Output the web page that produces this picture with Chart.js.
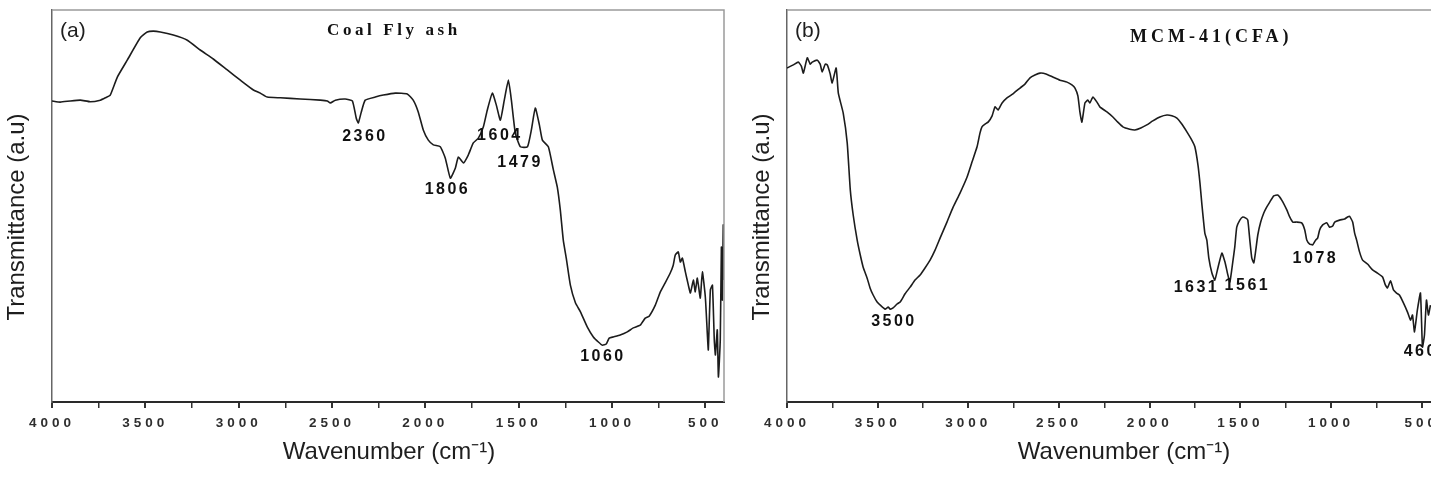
<!DOCTYPE html>
<html>
<head>
<meta charset="utf-8">
<script src="https://cdn.jsdelivr.net/npm/chart.js@4.4.1/dist/chart.umd.min.js"></script>
<style>
    html, body { margin: 0; padding: 0; background: #fff; overflow: hidden; width: 1431px; height: 478px; }
    .panel { position: absolute; top: 0; }
    #panelA { left: 0; }
    #panelB { left: 740px; }
</style>
</head>
<body>
<div class="panel" id="panelA"><canvas id="chartA" width="735" height="478"></canvas></div>
<div class="panel" id="panelB"><canvas id="chartB" width="700" height="478"></canvas></div>
<script>
// x axis ticks (cm-1)
const majorTicks = [4000, 3500, 3000, 2500, 2000, 1500, 1000, 500];
const minorTicks = [3750, 3250, 2750, 2250, 1750, 1250, 750];

// (a) Coal fly ash spectrum
const waveA = [4000, 3956, 3902, 3848, 3795, 3741, 3714, 3688, 3650, 3597, 3527, 3490, 3457, 3420, 3350, 3275,
    3206, 3136, 3061, 2991, 2921, 2884, 2847, 2777, 2670, 2563, 2525, 2509, 2482, 2429, 2391, 2370, 2359, 2343,
    2322, 2268, 2225, 2161, 2097, 2065, 2038, 2011, 1984, 1957, 1920, 1893, 1866, 1839, 1823, 1796, 1770, 1743,
    1716, 1689, 1668, 1641, 1620, 1598, 1577, 1555, 1539, 1518, 1491, 1453, 1432, 1411, 1389, 1373, 1341, 1314,
    1293, 1277, 1261, 1245, 1223, 1196, 1169, 1132, 1100, 1073, 1052, 1031, 1015, 993, 956, 918, 886, 849, 822,
    801, 768, 741, 715, 688, 672, 661, 645, 634, 623, 607, 591, 580, 564, 554, 543, 527, 516, 500, 489, 484, 473,
    462, 452, 446, 436, 430, 420, 414, 409, 404, 400];
const transA = [76.8, 76.5, 76.8, 77.0, 76.6, 77.0, 77.6, 78.3, 82.9, 87.2, 92.9, 94.4, 94.6, 94.4, 93.6, 92.3,
    89.8, 87.5, 84.7, 82.1, 79.6, 78.8, 77.8, 77.6, 77.3, 77.0, 76.8, 76.3, 77.0, 77.3, 76.8, 72.4, 71.2, 74.0,
    77.0, 77.8, 78.3, 78.8, 78.6, 77.0, 74.0, 69.4, 66.8, 65.6, 65.1, 62.2, 57.1, 59.7, 62.5, 61.0, 63.0, 66.1,
    67.3, 70.2, 74.5, 78.8, 75.8, 71.9, 77.0, 82.1, 77.0, 68.6, 65.1, 65.1, 69.4, 75.0, 70.7, 66.8, 65.1, 59.2,
    54.8, 49.0, 41.3, 36.7, 29.8, 25.3, 23.0, 19.1, 16.6, 15.3, 14.5, 14.8, 16.3, 16.6, 17.1, 17.9, 18.9, 19.6, 21.4,
    21.9, 24.7, 28.1, 30.4, 32.9, 34.9, 37.5, 38.3, 35.7, 36.7, 33.2, 29.8, 27.8, 31.1, 28.1, 31.6, 26.5, 33.2,
    26.8, 17.1, 13.3, 28.6, 29.8, 15.8, 12.0, 18.4, 6.4, 15.8, 39.5, 26.0, 45.2, 31.1];

// (b) MCM-41 (CFA) spectrum
const waveB = [4000, 3965, 3938, 3921, 3910, 3888, 3872, 3861, 3833, 3817, 3806, 3789, 3778, 3762, 3751, 3729,
    3717, 3690, 3668, 3651, 3635, 3613, 3596, 3580, 3558, 3542, 3525, 3503, 3481, 3459, 3442, 3431, 3415, 3393,
    3376, 3349, 3321, 3294, 3266, 3239, 3211, 3183, 3156, 3118, 3084, 3046, 3007, 2980, 2952, 2936, 2925, 2908,
    2891, 2869, 2853, 2836, 2814, 2787, 2754, 2715, 2688, 2660, 2633, 2605, 2572, 2534, 2495, 2456, 2429, 2412,
    2396, 2385, 2374, 2357, 2341, 2330, 2313, 2291, 2275, 2236, 2203, 2176, 2148, 2110, 2082, 2049, 2016, 1983,
    1944, 1905, 1878, 1850, 1823, 1795, 1768, 1751, 1734, 1723, 1712, 1696, 1685, 1674, 1657, 1641, 1624, 1602,
    1585, 1569, 1558, 1542, 1531, 1520, 1503, 1487, 1470, 1459, 1448, 1437, 1426, 1415, 1404, 1388, 1371, 1355,
    1338, 1316, 1294, 1272, 1244, 1228, 1211, 1189, 1162, 1145, 1134, 1118, 1101, 1085, 1074, 1063, 1046, 1024,
    1008, 991, 980, 953, 925, 909, 898, 881, 870, 859, 843, 826, 799, 771, 744, 716, 700, 689, 672, 656, 639, 623,
    601, 579, 562, 551, 540, 524, 507, 496, 485, 474, 463, 452];
const transB = [85.2, 86.0, 86.7, 85.7, 83.9, 87.8, 86.2, 86.7, 87.2, 86.2, 84.2, 86.2, 86.0, 83.7, 81.4, 85.2,
    78.8, 73.7, 66.1, 54.1, 47.7, 41.3, 37.5, 34.4, 31.6, 29.1, 27.3, 25.5, 24.5, 23.7, 24.2, 23.7, 24.0, 25.0,
    25.5, 27.6, 29.3, 31.1, 32.4, 34.2, 36.2, 38.8, 41.8, 45.9, 49.7, 53.3, 57.4, 61.2, 65.1, 68.6, 70.2, 70.9,
    71.4, 73.0, 75.3, 74.5, 76.3, 77.6, 78.6, 80.1, 81.1, 82.7, 83.4, 83.9, 83.7, 82.9, 82.1, 81.6, 80.9, 80.1,
    78.1, 74.0, 71.4, 76.3, 77.0, 76.3, 77.8, 76.5, 75.3, 74.0, 72.7, 71.4, 70.2, 69.6, 69.4, 69.9, 70.7, 71.7,
    72.7, 73.2, 73.0, 72.4, 70.9, 68.9, 66.8, 65.1, 60.5, 55.9, 50.3, 43.1, 41.3, 36.7, 32.9, 31.1, 34.2, 38.0,
    35.7, 32.4, 30.6, 35.7, 39.5, 44.6, 46.4, 47.2, 46.9, 46.4, 41.3, 36.7, 35.5, 38.8, 42.6, 45.9, 48.2, 49.7,
    51.0, 52.6, 52.8, 51.5, 49.0, 47.2, 45.9, 45.9, 45.7, 43.9, 41.3, 40.3, 40.1, 41.3, 41.8, 43.9, 45.2, 45.7,
    44.6, 44.9, 45.9, 46.4, 46.7, 47.2, 47.4, 45.9, 43.1, 41.3, 38.3, 36.2, 35.2, 33.7, 32.9, 31.9, 29.8, 29.1,
    30.9, 28.6, 27.8, 27.3, 25.3, 23.0, 20.9, 22.2, 17.9, 23.5, 27.8, 14.0, 17.1, 26.0, 22.2, 24.7];

// peak labels: text, anchor wavenumber, anchor transmittance
const peaksA = [['2360', 2330, 67.6], ['1806', 1888, 54.1], ['1604', 1607, 67.9], ['1479', 1499, 61.2], ['1060', 1055, 11.5]];
const peaksB = [['3500', 3417, 20.4], ['1631', 1749, 29.3], ['1561', 1468, 29.6], ['1078', 1093, 36.5], ['460', 512, 12.8]];

const SANS = '"Liberation Sans", Arial, sans-serif';
const SERIF = '"Liberation Serif", "Times New Roman", serif';

// extra drawing: frame, titles, peak labels
const decorPlugin = {
    id: 'decor',
    beforeDraw(chart) {
        // spaced-out tick digits
        chart.ctx.letterSpacing = '4px';
    },
    afterDraw(chart, args, opts) {
        const ctx = chart.ctx;
        const area = chart.chartArea;
        const xs = chart.scales.x;
        const ys = chart.scales.y;
        ctx.save();

        // top and right frame
        ctx.strokeStyle = '#9a9a9a';
        ctx.lineWidth = 1.5;
        ctx.beginPath();
        ctx.moveTo(area.left, area.top);
        ctx.lineTo(area.right, area.top);
        ctx.lineTo(area.right, area.bottom);
        ctx.stroke();

        // axis titles
        ctx.letterSpacing = '0px';
        ctx.fillStyle = '#1e1e1e';
        ctx.font = '24px ' + SANS;
        ctx.textAlign = 'center';
        ctx.textBaseline = 'middle';
        ctx.fillText('Wavenumber (cm\u207B\u00B9)', opts.xTitleX, 452);
        ctx.save();
        ctx.translate(opts.yTitleX, 217);
        ctx.rotate(-Math.PI / 2);
        ctx.fillText('Transmittance (a.u)', 0, 0);
        ctx.restore();

        // panel tag
        ctx.textAlign = 'left';
        ctx.textBaseline = 'alphabetic';
        ctx.font = '21px ' + SANS;
        ctx.fillText(opts.tag, area.left + 8, 37);

        // sample name
        ctx.font = 'bold ' + opts.nameSize + 'px ' + SERIF;
        ctx.letterSpacing = opts.nameSpacing + 'px';
        ctx.fillStyle = '#111';
        ctx.fillText(opts.name, opts.nameX, opts.nameY);

        // peak labels
        ctx.font = 'bold 16px ' + SANS;
        ctx.letterSpacing = '2.5px';
        ctx.textAlign = 'center';
        ctx.textBaseline = 'middle';
        opts.peaks.forEach(p => {
            ctx.fillText(p[0], xs.getPixelForValue(p[1]) + 1.2, ys.getPixelForValue(p[2]));
        });

        ctx.restore();
        ctx.letterSpacing = '0px';
    }
};

function makeChart(id, waves, values, cfg) {
    const points = waves.map((w, i) => ({ x: w, y: values[i] }));
    return new Chart(document.getElementById(id), {
        type: 'line',
        data: {
            datasets: [{
                data: points,
                borderColor: '#1c1c1c',
                borderWidth: 1.6,
                pointRadius: 0,
                tension: 0.15,
                fill: false
            }]
        },
        options: {
            responsive: false,
            animation: false,
            events: [],
            layout: { padding: { top: 10, right: cfg.padRight, left: 0, bottom: 0 } },
            plugins: {
                legend: { display: false },
                tooltip: { enabled: false },
                decor: cfg.decor
            },
            scales: {
                x: {
                    type: 'linear',
                    reverse: true,
                    min: 400,
                    max: 4000,
                    afterBuildTicks: scale => {
                        scale.ticks = majorTicks.concat(minorTicks).sort((a, b) => b - a).map(v => ({ value: v }));
                    },
                    afterFit: scale => { scale.height = 76; },
                    ticks: {
                        autoSkip: false,
                        maxRotation: 0,
                        minRotation: 0,
                        padding: 7,
                        color: '#2e2e2e',
                        font: { family: SANS, size: 13.5, weight: 'bold' },
                        callback: v => majorTicks.includes(v) ? String(v) : ''
                    },
                    grid: {
                        drawOnChartArea: false,
                        drawTicks: true,
                        tickLength: 6,
                        color: '#333',
                        lineWidth: c => majorTicks.includes(c.tick && c.tick.value) ? 2 : 1.5
                    },
                    border: { display: true, color: '#2a2a2a', width: 2 }
                },
                y: {
                    min: 0,
                    max: 100,
                    afterFit: scale => { scale.width = cfg.yWidth; },
                    ticks: { display: false },
                    grid: { display: false },
                    border: { display: true, color: '#666', width: 1.5 }
                }
            }
        },
        plugins: [decorPlugin]
    });
}

makeChart('chartA', waveA, transA, {
    padRight: 11,
    yWidth: 52,
    decor: { tag: '(a)', name: 'Coal Fly ash', nameX: 327, nameY: 35, nameSize: 17, nameSpacing: 3.6,
        xTitleX: 389, yTitleX: 17, peaks: peaksA }
});

makeChart('chartB', waveB, transB, {
    padRight: 0,
    yWidth: 47,
    decor: { tag: '(b)', name: 'MCM-41(CFA)', nameX: 390, nameY: 42, nameSize: 18, nameSpacing: 4,
        xTitleX: 384, yTitleX: 22, peaks: peaksB }
});
</script>
</body>
</html>
